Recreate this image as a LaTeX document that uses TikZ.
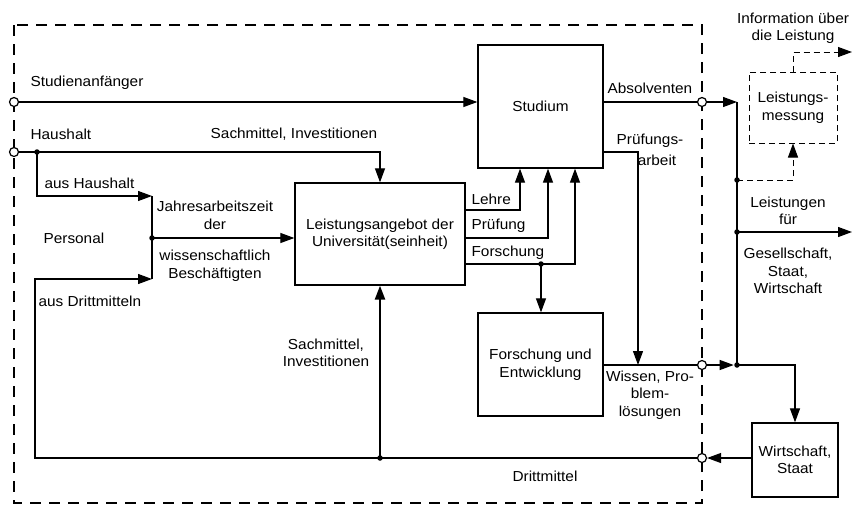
\documentclass[tikz,border=0pt]{standalone}
\usepackage{fontspec}
\setmainfont{Liberation Sans}[FakeStretch=1.06]
\usetikzlibrary{arrows.meta}
\begin{document}
\begin{tikzpicture}[x=1pt,y=-1pt,
  font=\fontsize{14.5}{17.5}\selectfont,
  line width=1.2pt,
  >={Triangle[length=14pt,width=10pt]},
  box/.style={draw,line width=1.3pt,inner sep=0pt,align=center},
  circ/.style={circle,draw,fill=white,inner sep=0pt,minimum size=9pt,line width=1.2pt},
  dot/.style={circle,fill,inner sep=0pt,minimum size=5.5pt},
  lbl/.style={inner sep=0pt,align=center},
  border/.style={line width=1.8pt,dash pattern=on 11pt off 8pt},
  thindash/.style={line width=1pt,dash pattern=on 6pt off 4pt}]
\useasboundingbox (0,0) rectangle (854,507);

% frame
\draw[border] (14,25) rectangle (702,503);

% boxes
\node[box, minimum width=125pt, minimum height=123pt] (studium) at (540.5,106.5) {Studium};
\node[box, minimum width=170pt, minimum height=102pt] (lab) at (380,234) {Leistungsangebot der\\Universität(seinheit)};
\node[box, minimum width=125pt, minimum height=103pt] (fe) at (540.5,364.5) {Forschung und\\Entwicklung};
\node[box, thindash, minimum width=88pt, minimum height=71pt] (mess) at (793,107.5) {Leistungs-\\messung};
\node[box, minimum width=86pt, minimum height=74pt] (ws) at (795,460) {Wirtschaft,\\Staat};

% junctions
\node[circ] (cS) at (14,102) {};
\node[circ] (cH) at (14,152) {};
\node[circ] (cD) at (702,458) {};
\node[circ] (cA) at (702,102) {};
\node[circ] (cW) at (702,365) {};
\node[dot] (dH) at (37,152) {};
\coordinate (jA) at (152,196);
\coordinate (jB) at (152,279);
\node[dot] (dP) at (152,238) {};
\coordinate (dl) at (35,279);
\node[dot] (dS) at (380,458) {};
\coordinate (lehre) at (520,210);
\coordinate (pruef) at (548,238);
\coordinate (forsch) at (575,264);
\node[dot] (dF) at (541,264) {};
\coordinate (pa) at (638,152);
\coordinate (jR) at (737,102);
\node[dot] (dW) at (737,365) {};
\node[dot] (dM) at (737,180) {};
\node[dot] (dL) at (737,232) {};
\coordinate (eL) at (852,232);
\coordinate (iE) at (852,52);

% connectors
\draw[->] (cS) -- (cS -| studium.west);
\draw[->] (cH) -| (lab.north);
\draw[->] (dH.center) |- (jA);
\draw (jA) -- (jB);
\draw[->] (dP.center) -- (dP -| lab.west);
\draw[->] (ws.west |- cD) -- (cD);
\draw[->] (cD) -| (dl) |- (jB);
\draw[->, line width=2.4pt] (dS.center) -- (lab.south);
\draw[->] (lab.east |- lehre) -| (lehre |- studium.south);
\draw[->] (lab.east |- pruef) -| (pruef |- studium.south);
\draw[->] (lab.east |- forsch) -| (forsch |- studium.south);
\draw[->] (dF.center) -- (dF |- fe.north);
\draw (studium.east |- cA) -- (cA);
\draw[->] (cA) -- (jR);
\draw (jR) -- (dW.center);
\draw[->] (studium.east |- pa) -| (pa |- cW);
\draw (fe.east |- cW) -- (cW);
\draw[->] (cW) -- (dW);
\draw[->] (dW.center) -| (ws.north);
\draw[->, thindash] (dM.center) -| (mess.south);
\draw[->] (dL.center) -- (eL);
\draw[->, thindash] (mess.north) |- (iE);

% labels
\node[lbl, anchor=west] (t1) at (30,83) {Studienanfänger};
\node[lbl, anchor=west] (t2) at (30,134) {Haushalt};
\node[lbl] (t3) at (294,134) {Sachmittel, Investitionen};
\node[lbl, anchor=west] (t4) at (44,183) {aus Haushalt};
\node[lbl] (t5) at (215,215.5) {Jahresarbeitszeit\\der};
\node[lbl, anchor=west] (t6) at (43,238) {Personal};
\node[lbl] (t7) at (215,265.5) {wissenschaftlich\\Beschäftigten};
\node[lbl, anchor=west] (t8) at (38,301) {aus Drittmitteln};
\node[lbl] (t9) at (326,353) {Sachmittel,\\Investitionen};
\node[lbl, anchor=west] (t10) at (471,199) {Lehre};
\node[lbl, anchor=west] (t11) at (471,226) {Prüfung};
\node[lbl, anchor=west] (t12) at (471,253) {Forschung};
\node[lbl, anchor=west] (t13) at (607,88) {Absolventen};
\node[lbl] (t14) at (650,141) {Prüfungs-};
\node[lbl] (t15) at (657,160) {arbeit};
\node[lbl] (t16) at (788,211) {Leistungen\\für};
\node[lbl] (t17) at (788,271) {Gesellschaft,\\Staat,\\Wirtschaft};
\node[lbl] (t18) at (793,28) {Information über\\die Leistung};
\node[lbl] (t19) at (650,395) {Wissen, Pro-\\blem-\\lösungen};
\node[lbl] (t20) at (545,476) {Drittmittel};
\end{tikzpicture}
\end{document}
